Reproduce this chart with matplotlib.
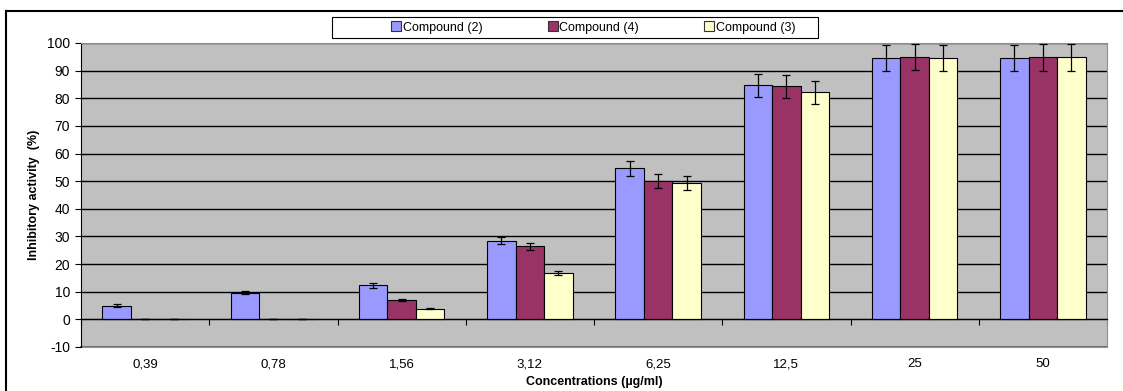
import numpy as np
import matplotlib
matplotlib.use('Agg')
from matplotlib import pyplot as plt
from matplotlib.lines import Line2D
from matplotlib.patches import Rectangle

plt.rcParams['font.family'] = ['Liberation Sans', 'DejaVu Sans']
plt.rcParams['axes.unicode_minus'] = False

# data
concentrations = ['0,39', '0,78', '1,56', '3,12', '6,25', '12,5', '25', '50']
series_names = ['Compound (2)', 'Compound (4)', 'Compound (3)']
compound2 = [5.0, 9.7, 12.4, 28.5, 54.6, 84.7, 94.5, 94.5]
compound2_err = [0.5, 0.5, 0.9, 1.3, 2.8, 4.1, 4.7, 4.8]
compound4 = [0.0, 0.0, 7.1, 26.4, 50.0, 84.4, 94.8, 94.8]
compound4_err = [0.0, 0.0, 0.3, 1.3, 2.5, 4.2, 4.7, 4.8]
compound3 = [0.0, 0.0, 3.9, 16.8, 49.3, 82.2, 94.6, 94.8]
compound3_err = [0.0, 0.0, 0.2, 0.8, 2.5, 4.1, 4.7, 4.8]
yticks = list(range(-10, 101, 10))

colors = ['#9999FF', '#993366', '#FFFFCC']

fig = plt.figure(figsize=(11.23, 3.91), dpi=100)
ax = fig.add_axes([81/1123, 1-347/391, (1107-81)/1123, (347-43)/391])
ax.set_facecolor('#C0C0C0')

x = np.arange(len(concentrations))
w = 0.222
vals = [compound2, compound4, compound3]
errs = [compound2_err, compound4_err, compound3_err]
for k in range(3):
    ax.bar(x + (k-1)*w, vals[k], w, color=colors[k], edgecolor='black',
           linewidth=0.8, label=series_names[k], zorder=3)
    ax.errorbar(x + (k-1)*w, vals[k], yerr=errs[k], fmt='none', ecolor='black',
                elinewidth=0.9, capsize=3, capthick=0.9, zorder=4)

ax.set_xlim(-0.5, len(concentrations) - 0.5)
ax.set_ylim(-10, 100)
ax.set_yticks(yticks)
ax.yaxis.grid(True, color='black', linewidth=1.0, zorder=1)
ax.set_axisbelow(True)
ax.tick_params(axis='y', direction='out', length=4, width=0.8, labelsize=10, pad=4)

# category axis crosses at zero, ticks between categories
ax.spines['bottom'].set_position(('data', 0))
ax.spines['bottom'].set_zorder(5)
ax.set_xticks(np.arange(len(concentrations)+1) - 0.5)
ax.set_xticklabels([])
ax.tick_params(axis='x', direction='out', length=4, width=0.8)
for s in ['top', 'right']:
    ax.spines[s].set_color('#909090')
ax.spines['left'].set_color('black')

sec = ax.secondary_xaxis('bottom')
sec.set_xticks(x)
sec.set_xticklabels(concentrations, fontsize=9.5)
sec.tick_params(length=0, pad=8)
sec.spines['bottom'].set_color('#909090')
sec.spines['bottom'].set_linewidth(1.5)
sec.set_xlabel('Concentrations (µg/ml)', fontsize=9, fontweight='bold', labelpad=4)

ax.set_ylabel('Inhibitory activity  (%)', fontsize=9, fontweight='bold', labelpad=5)

# legend: white box with entries centred a bit right of the box centre
fig.add_artist(Rectangle((332/1123, 1-38/391), (818-332)/1123, 21/391,
                         transform=fig.transFigure, facecolor='white',
                         edgecolor='black', linewidth=0.8))
handles = [Line2D([], [], marker='s', linestyle='none', markersize=7,
                  markerfacecolor=c, markeredgecolor='#333333', markeredgewidth=0.8)
           for c in colors]
leg = fig.legend(handles, series_names, loc='center', ncol=3,
                 bbox_to_anchor=(593/1123, 1-27.5/391),
                 bbox_transform=fig.transFigure, fontsize=9, frameon=False,
                 handletextpad=0.05, borderaxespad=0, borderpad=0,
                 handlelength=0.9, columnspacing=5.2)

# outer chart border (top and left visible)
fig.add_artist(Line2D([6/1123, 6/1123], [0, 1-11/391], color='black', linewidth=1.5,
                      transform=fig.transFigure))
fig.add_artist(Line2D([6/1123, 1], [1-11/391, 1-11/391], color='black', linewidth=1.5,
                      transform=fig.transFigure))

fig.savefig('out.png', dpi=100)
